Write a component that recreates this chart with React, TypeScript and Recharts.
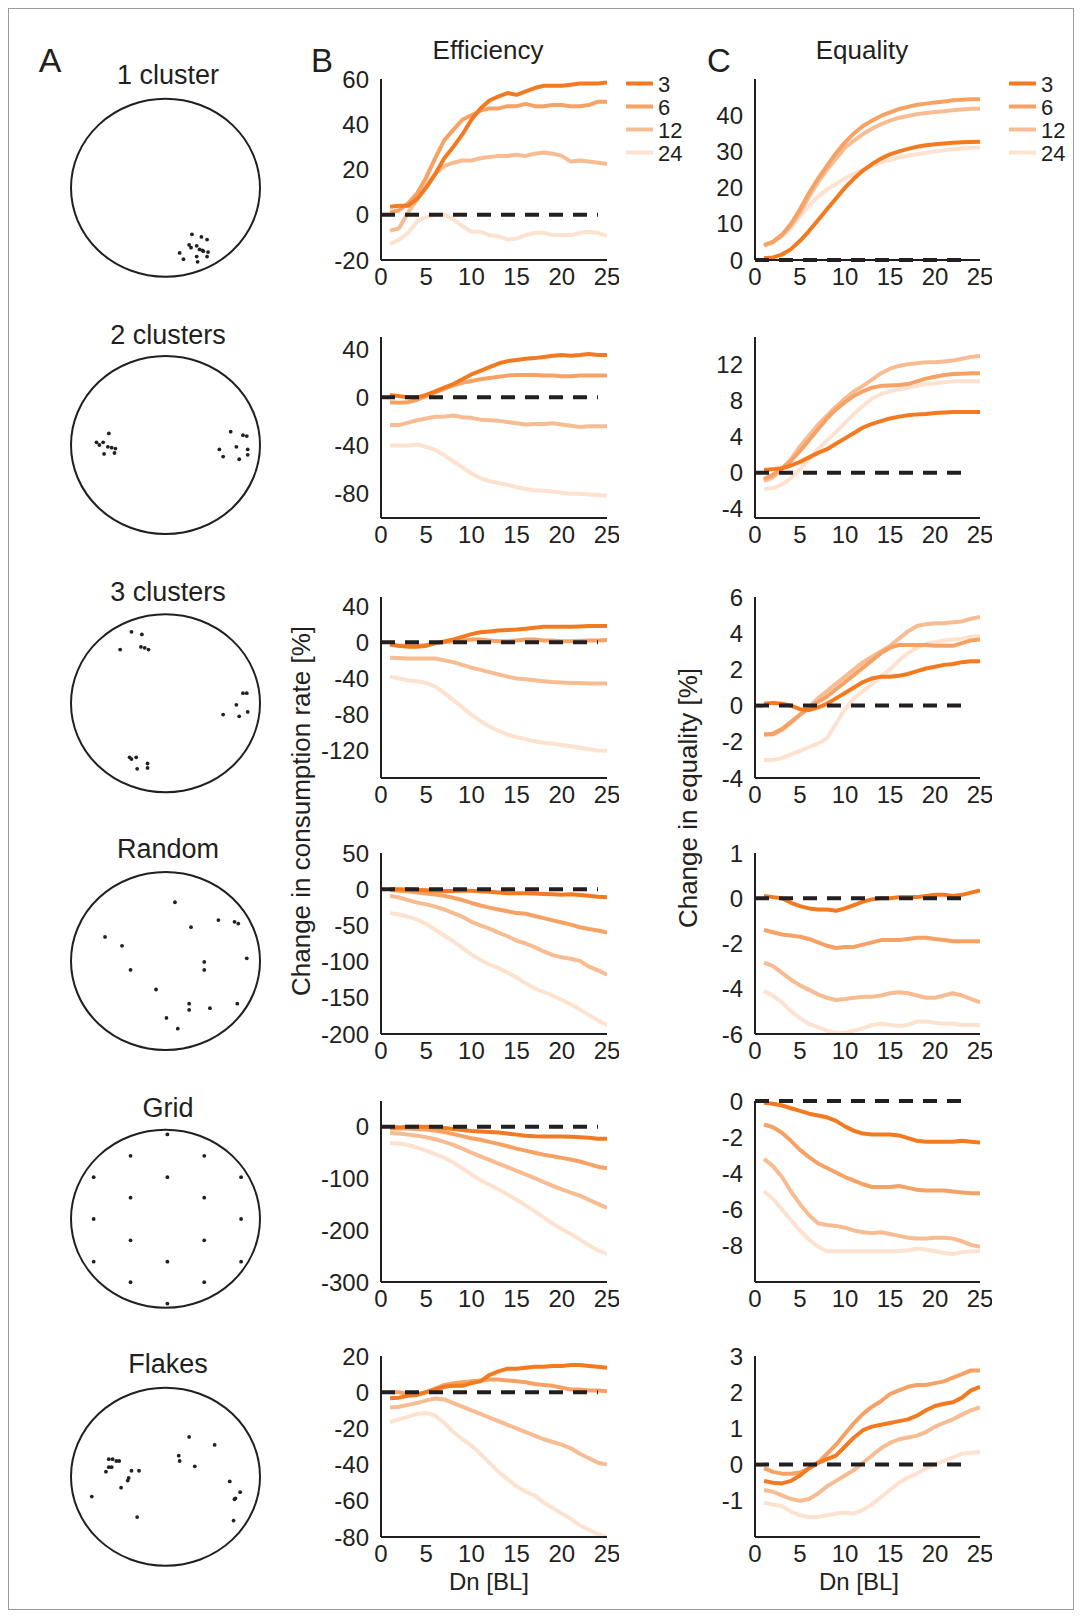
import { LineChart, Line, XAxis, YAxis, ReferenceLine, ScatterChart, Scatter } from "recharts"

const FONT = '"Liberation Sans", Arial, Helvetica, sans-serif'
const INK = "#231f20"

// group sizes shown in the legend, darkest first
const groupLabels = ["3", "6", "12", "24"]
const groupColors = ["#f37a21", "#f6a265", "#f8bc92", "#fde2cf"]

// Dn [BL]
const dn = [1, 2, 3, 4, 5, 6, 7, 8, 9, 10, 11, 12, 13, 14, 15, 16, 17, 18, 19, 20, 21, 22, 23, 24, 25]
const dnTicks = [0, 5, 10, 15, 20, 25]

// ---- 1 cluster
const e1_3 = [3.5, 4, 4, 7, 12, 18, 25, 30, 35.5, 42, 47, 50.5, 52.3, 53.8, 53, 54.5, 56, 57, 57, 57, 57.5, 58, 58, 58, 58.5]
const e1_6 = [1, 2, 5, 9.5, 16.5, 25, 33, 37.5, 42, 44, 46, 47, 47, 48, 48, 49, 48, 48, 48.5, 48.5, 48, 48, 48.5, 50, 50]
const e1_12 = [-7, -6, 1, 7, 13, 18, 21.5, 23, 24, 24, 25, 25.5, 26, 26, 26.5, 26, 27, 27.5, 27, 26, 23.5, 24, 23.5, 23, 22.5]
const e1_24 = [-13, -11, -8, -3, -1, 0, 0, -2, -5, -7.5, -7.5, -9, -9.5, -11, -10.5, -9, -8, -8, -9, -9, -9, -8, -7.5, -8, -9.5]
const q1_3 = [0.5, 0.7, 1.5, 3, 5.3, 8, 11, 14, 17, 20, 22.5, 24.7, 26.5, 28, 29.2, 30, 30.7, 31.3, 31.7, 32, 32.2, 32.4, 32.5, 32.6, 32.7]
const q1_6 = [4.2, 5, 7, 10, 14, 18.5, 22.5, 26, 29.5, 32.5, 35, 37, 38.5, 39.8, 40.8, 41.7, 42.3, 42.9, 43.2, 43.5, 43.8, 44.1, 44.3, 44.4, 44.4]
const q1_12 = [4, 5, 6.8, 9.5, 13, 17.5, 21.5, 25, 28, 31, 33, 34.8, 36.3, 37.5, 38.5, 39.3, 39.8, 40.3, 40.6, 40.9, 41.1, 41.4, 41.6, 41.8, 41.8]
const q1_24 = [4, 5, 6.5, 9, 12, 15, 17.5, 19.5, 21, 22.5, 23.8, 25, 26, 27, 27.7, 28.3, 28.8, 29.2, 29.6, 30, 30.3, 30.6, 30.8, 31, 31.1]

// ---- 2 clusters
const e2_3 = [2, 1, 0, 0, 2, 5, 8, 11, 15, 19, 22, 25, 28, 30, 31, 32, 32.5, 33.5, 34.5, 35, 34.5, 35, 36, 35, 35]
const e2_6 = [-4, -4.5, -4, -2, 1, 4, 7, 10, 12, 13.5, 15, 16, 17, 18, 18.5, 18.5, 18.5, 18, 18, 17.5, 17.5, 18, 18, 18, 18]
const e2_12 = [-23, -23, -21, -19, -17.5, -16, -16, -15, -16.5, -17, -18.5, -19, -19.5, -20.5, -21.5, -22.5, -22, -22, -21.5, -22.5, -23.5, -24.5, -24, -24, -24]
const e2_24 = [-40, -40, -40, -39, -41, -43.5, -48, -53, -58, -63, -67, -69.5, -71, -72.5, -74.5, -76, -77, -77.5, -78, -79, -80, -80, -80.5, -81, -81.5]
const q2_3 = [0.3, 0.4, 0.5, 0.8, 1.2, 1.7, 2.2, 2.6, 3.2, 3.8, 4.4, 5, 5.4, 5.7, 6, 6.2, 6.35, 6.45, 6.5, 6.6, 6.65, 6.7, 6.7, 6.7, 6.7]
const q2_6 = [-0.7, -0.2, 0.5, 1.3, 2.4, 3.6, 4.8, 6, 7, 7.8, 8.5, 9, 9.4, 9.6, 9.65, 9.7, 9.8, 10.1, 10.4, 10.6, 10.8, 10.9, 10.95, 11, 11]
const q2_12 = [-0.9, -0.5, 0.4, 1.5, 2.9, 4.1, 5.3, 6.3, 7.3, 8.2, 9, 9.6, 10.3, 11, 11.5, 11.8, 12, 12.1, 12.2, 12.2, 12.3, 12.4, 12.6, 12.8, 12.9]
const q2_24 = [-1.8, -1.7, -1.3, -0.6, 0.4, 1.5, 2.6, 3.6, 4.5, 5.5, 6.5, 7.4, 8.2, 8.7, 9, 9.2, 9.4, 9.6, 9.8, 9.9, 10, 10.1, 10.1, 10.1, 10.1]

// ---- 3 clusters
const e3_3 = [-2, -4, -5, -5, -4, -1, 1, 3, 6, 9, 11, 12, 13, 13.5, 14, 15, 16, 17, 17, 17, 17, 17.5, 18, 18, 18]
const e3_6 = [-3, -4, -4, -4, -3, -1, 0, 1, 2, 3, 3, 2, 1, 1, 2, 3, 3, 2, 2, 1, 1, 1.5, 2, 2, 2.5]
const e3_12 = [-17, -17.5, -18, -18, -18, -18, -20, -22, -25, -28, -30.5, -33, -35.5, -38, -40, -41, -42, -43, -44, -44.5, -45, -45, -45.5, -45.5, -45.5]
const e3_24 = [-38, -40, -42, -43, -45, -49, -56, -64, -72, -80, -87, -93, -98, -102, -105, -107, -109.5, -111, -112, -113.5, -115, -116.5, -118, -119.5, -120]
const q3_3 = [0.1, 0.15, 0.1, 0, -0.2, -0.25, -0.1, 0.1, 0.4, 0.7, 1.0, 1.3, 1.5, 1.6, 1.6, 1.65, 1.75, 1.9, 2.05, 2.15, 2.25, 2.3, 2.4, 2.45, 2.45]
const q3_6 = [-1.6, -1.55, -1.3, -0.9, -0.5, -0.15, 0.2, 0.5, 0.9, 1.3, 1.7, 2.1, 2.5, 2.9, 3.2, 3.35, 3.35, 3.35, 3.35, 3.3, 3.3, 3.3, 3.45, 3.6, 3.65]
const q3_12 = [-1.6, -1.6, -1.35, -0.95, -0.5, -0.1, 0.4, 0.8, 1.2, 1.6, 2.0, 2.4, 2.7, 3.0, 3.3, 3.7, 4.1, 4.4, 4.5, 4.55, 4.55, 4.6, 4.65, 4.8, 4.9]
const q3_24 = [-3.0, -3.0, -2.9, -2.7, -2.5, -2.3, -2.1, -1.8, -1.0, -0.2, 0.4, 0.8, 1.2, 1.6, 2.0, 2.5, 2.9, 3.2, 3.4, 3.5, 3.6, 3.65, 3.7, 3.8, 3.85]

// ---- random
const e4_3 = [0, 0, -0.5, -1, -1.5, -2, -2.5, -2.5, -2, -2, -3, -3.5, -4.5, -5.5, -5.5, -5.5, -6, -6.5, -7, -7.5, -7, -8, -9, -10.5, -11]
const e4_6 = [-1, -2, -3, -4.5, -6, -7.5, -9, -12, -15, -19, -22.5, -25.5, -28, -30.5, -33, -34, -37, -40, -43, -46, -49, -52.5, -55, -57, -60]
const e4_12 = [-9, -11.5, -15, -18.5, -21, -24, -28, -33, -38, -45, -50, -54.5, -60, -65, -71, -75, -80, -86, -91, -94, -96, -99, -107, -112, -118]
const e4_24 = [-33, -35, -38, -42, -48, -56, -64, -72, -81, -90, -98, -104, -109, -115, -122, -130, -137, -142, -147, -153, -159, -166, -174, -181, -188]
const q4_3 = [0.1, 0.05, 0, -0.2, -0.35, -0.45, -0.5, -0.5, -0.55, -0.45, -0.3, -0.15, -0.05, 0, 0, 0.05, 0.05, 0.05, 0.1, 0.15, 0.15, 0.1, 0.15, 0.25, 0.35]
const q4_6 = [-1.4, -1.5, -1.6, -1.65, -1.7, -1.8, -1.95, -2.1, -2.2, -2.15, -2.15, -2.05, -1.95, -1.85, -1.85, -1.85, -1.8, -1.75, -1.75, -1.8, -1.85, -1.9, -1.9, -1.9, -1.9]
const q4_12 = [-2.85, -3.0, -3.3, -3.6, -3.85, -4.05, -4.25, -4.4, -4.5, -4.45, -4.4, -4.35, -4.35, -4.3, -4.2, -4.15, -4.2, -4.3, -4.4, -4.4, -4.3, -4.2, -4.3, -4.45, -4.6]
const q4_24 = [-4.1, -4.3, -4.6, -5.0, -5.3, -5.55, -5.7, -5.85, -5.95, -5.95, -5.85, -5.75, -5.6, -5.55, -5.6, -5.65, -5.6, -5.45, -5.45, -5.5, -5.55, -5.55, -5.6, -5.6, -5.6]

// ---- grid
const e5_3 = [-1, -1, 0, 0, 0, -1, -2, -4, -6, -8, -9, -10, -11, -13, -15, -17, -18, -18.5, -18.5, -18.5, -19, -20, -21, -23, -23]
const e5_6 = [-3, -3, -3, -4, -5, -7, -10, -14, -18, -22, -25, -29, -33, -37.5, -42, -46, -50, -54, -57, -60, -63, -67, -72, -77, -80]
const e5_12 = [-12, -13, -15, -17, -20, -24, -29, -35, -42, -50, -57, -64, -71, -78, -85, -92, -99, -107, -114, -121, -127, -133, -141, -149, -157]
const e5_24 = [-31, -32, -35, -40, -46, -53, -60, -69, -80, -92, -103, -112, -121, -131, -141, -152, -163, -175, -187, -198, -207, -218, -229, -239, -245]
const q5_3 = [-0.1, -0.15, -0.25, -0.4, -0.55, -0.7, -0.8, -0.9, -1.1, -1.4, -1.65, -1.8, -1.85, -1.85, -1.85, -1.9, -2.05, -2.2, -2.25, -2.25, -2.25, -2.25, -2.2, -2.25, -2.3]
const q5_6 = [-1.3, -1.45, -1.75, -2.2, -2.7, -3.1, -3.45, -3.7, -3.95, -4.2, -4.4, -4.6, -4.75, -4.75, -4.75, -4.7, -4.8, -4.9, -4.95, -4.95, -4.95, -5.0, -5.05, -5.1, -5.1]
const q5_12 = [-3.2, -3.6, -4.2, -5, -5.7, -6.3, -6.75, -6.85, -6.9, -7.0, -7.15, -7.25, -7.3, -7.25, -7.35, -7.45, -7.55, -7.6, -7.6, -7.55, -7.55, -7.6, -7.75, -7.95, -8.05]
const q5_24 = [-5.0, -5.4, -6.0, -6.6, -7.15, -7.65, -8.05, -8.3, -8.3, -8.3, -8.3, -8.3, -8.3, -8.3, -8.3, -8.3, -8.25, -8.15, -8.2, -8.3, -8.4, -8.45, -8.35, -8.3, -8.3]

// ---- flakes
const e6_3 = [-3.3, -3, -2, -1.5, 0, 1.5, 3, 3.5, 3.5, 5, 6, 9.5, 11.5, 13, 13, 13.5, 14, 14, 14.5, 14.5, 15, 15, 14.5, 14, 13.5]
const e6_6 = [0, 0, -1, -1, 0, 2, 4, 5, 5.5, 6, 6.5, 7, 7, 6.5, 6, 5.5, 4.5, 4, 3.5, 2.5, 1.5, 1.5, 1, 1, 0.5]
const e6_12 = [-8.5, -8, -7, -6, -4.5, -3.5, -4, -6, -8, -10, -12, -14, -16, -18, -20, -22, -24, -26, -27.5, -29, -31, -34, -36.5, -39, -40]
const e6_24 = [-16.5, -15, -13.5, -12, -11.5, -13, -17, -22, -26, -29.5, -34, -39, -44, -48, -52, -55, -57, -61, -64, -67, -70, -73.5, -76, -78.5, -80]
const q6_3 = [-0.45, -0.5, -0.52, -0.45, -0.3, -0.1, 0.05, 0.15, 0.25, 0.5, 0.75, 0.95, 1.05, 1.1, 1.15, 1.2, 1.25, 1.35, 1.5, 1.62, 1.68, 1.72, 1.85, 2.05, 2.15]
const q6_6 = [-0.1, -0.2, -0.25, -0.25, -0.22, -0.1, 0.05, 0.3, 0.55, 0.85, 1.15, 1.4, 1.6, 1.75, 1.95, 2.05, 2.15, 2.2, 2.2, 2.25, 2.3, 2.4, 2.5, 2.6, 2.6]
const q6_12 = [-0.7, -0.75, -0.85, -0.95, -1.0, -0.95, -0.8, -0.6, -0.45, -0.3, -0.15, 0.05, 0.25, 0.45, 0.6, 0.7, 0.75, 0.8, 0.9, 1.05, 1.15, 1.25, 1.38, 1.5, 1.58]
const q6_24 = [-1.05, -1.1, -1.15, -1.3, -1.4, -1.45, -1.45, -1.4, -1.35, -1.33, -1.35, -1.25, -1.1, -0.9, -0.7, -0.5, -0.35, -0.25, -0.1, 0, 0.1, 0.2, 0.3, 0.33, 0.35]

// fish positions in the arena (unit circle coords)
const oneCluster = [[0.28, -0.52], [0.38, -0.55], [0.44, -0.58], [0.25, -0.64], [0.27, -0.67], [0.33, -0.65], [0.36, -0.69], [0.39, -0.7], [0.45, -0.72], [0.15, -0.73], [0.33, -0.77], [0.44, -0.77], [0.19, -0.8], [0.34, -0.83], [0.4, -0.71]]
const twoClusters = [[-0.6, 0.13], [-0.73, 0.03], [-0.7, 0], [-0.66, 0.03], [-0.61, -0.02], [-0.57, -0.03], [-0.53, -0.04], [-0.54, -0.09], [-0.65, -0.1], [0.69, 0.15], [0.82, 0.11], [0.86, 0.1], [0.57, -0.05], [0.75, -0.02], [0.87, -0.05], [0.61, -0.13], [0.78, -0.16], [0.87, -0.11]]
const threeClusters = [[-0.36, 0.8], [-0.25, 0.77], [-0.48, 0.6], [-0.26, 0.63], [-0.22, 0.62], [-0.18, 0.6], [0.82, 0.11], [0.86, 0.11], [0.75, -0.02], [0.87, -0.1], [0.61, -0.13], [0.78, -0.15], [-0.38, -0.61], [-0.36, -0.63], [-0.31, -0.61], [-0.19, -0.68], [-0.3, -0.74], [-0.19, -0.73]]
const randomPts = [[0.1, 0.66], [0.56, 0.46], [0.73, 0.44], [0.77, 0.42], [0.27, 0.38], [-0.64, 0.27], [-0.46, 0.17], [0.86, 0.03], [0.41, -0.01], [-0.37, -0.1], [0.41, -0.1], [-0.1, -0.32], [0.25, -0.48], [0.76, -0.48], [0.25, -0.55], [0.47, -0.53], [0.01, -0.64], [0.13, -0.76]]
const gridPts = [[0.02, 0.95], [-0.37, 0.71], [0.41, 0.71], [-0.76, 0.47], [0.02, 0.47], [0.8, 0.47], [-0.37, 0.24], [0.41, 0.24], [-0.76, 0], [0.8, 0], [-0.37, -0.24], [0.41, -0.24], [-0.76, -0.48], [0.02, -0.48], [0.8, -0.48], [-0.37, -0.71], [0.41, -0.71], [0.02, -0.95]]
const flakesPts = [[0.25, 0.45], [0.52, 0.36], [0.14, 0.24], [0.15, 0.18], [0.31, 0.12], [-0.6, 0.2], [-0.56, 0.2], [-0.52, 0.18], [-0.49, 0.18], [-0.6, 0.11], [-0.57, 0.11], [-0.63, 0.06], [-0.36, 0.07], [-0.28, 0.07], [-0.39, -0.01], [-0.4, -0.04], [-0.47, -0.12], [-0.78, -0.22], [0.68, -0.05], [0.79, -0.17], [0.74, -0.24], [0.73, -0.25], [-0.3, -0.45], [0.72, -0.49]]

const rowNames = ["1 cluster", "2 clusters", "3 clusters", "Random", "Grid", "Flakes"]
const rowTops = [79, 337, 597, 853, 1101, 1356]
const arenaCy = [187.8, 445, 703.3, 961, 1218.8, 1476.7]
const nameY = [84, 343.5, 601, 857.5, 1116.5, 1373]

const rows = [
  { dots: oneCluster, eff: [e1_3, e1_6, e1_12, e1_24], effDom: [-20, 60], effTicks: [-20, 0, 20, 40, 60],
    eq: [q1_3, q1_6, q1_12, q1_24], eqDom: [0, 50], eqTicks: [0, 10, 20, 30, 40] },
  { dots: twoClusters, eff: [e2_3, e2_6, e2_12, e2_24], effDom: [-100, 50], effTicks: [-80, -40, 0, 40],
    eq: [q2_3, q2_6, q2_12, q2_24], eqDom: [-5, 15], eqTicks: [-4, 0, 4, 8, 12] },
  { dots: threeClusters, eff: [e3_3, e3_6, e3_12, e3_24], effDom: [-150, 50], effTicks: [-120, -80, -40, 0, 40],
    eq: [q3_3, q3_6, q3_12, q3_24], eqDom: [-4, 6], eqTicks: [-4, -2, 0, 2, 4, 6] },
  { dots: randomPts, eff: [e4_3, e4_6, e4_12, e4_24], effDom: [-200, 50], effTicks: [-200, -150, -100, -50, 0, 50],
    eq: [q4_3, q4_6, q4_12, q4_24], eqDom: [-6, 2], eqTicks: [-6, -4, -2, 0, 2], eqText: ["-6", "-4", "-2", "0", "1"] },
  { dots: gridPts, eff: [e5_3, e5_6, e5_12, e5_24], effDom: [-300, 50], effTicks: [-300, -200, -100, 0],
    eq: [q5_3, q5_6, q5_12, q5_24], eqDom: [-10, 0], eqTicks: [-8, -6, -4, -2, 0] },
  { dots: flakesPts, eff: [e6_3, e6_6, e6_12, e6_24], effDom: [-80, 20], effTicks: [-80, -60, -40, -20, 0, 20],
    eq: [q6_3, q6_6, q6_12, q6_24], eqDom: [-2, 3], eqTicks: [-1, 0, 1, 2, 3] },
]

const ML = 70, MT = 20, MR = 12, XH = 40, PH = 181
const tickStyle = { fontSize: 24, fill: INK, fontFamily: FONT }

function Panel({ left, top, w, lines, dom, ticks, text }: any) {
  const data = dn.map((x, i) => ({ x, g0: lines[0][i], g1: lines[1][i], g2: lines[2][i], g3: lines[3][i] }))
  return (
    <div style={{ position: "absolute", left: left - ML, top: top - MT }}>
      <LineChart width={ML + w + MR} height={MT + PH + XH} data={data} margin={{ top: MT, right: MR, bottom: 0, left: 0 }}>
        <XAxis type="number" dataKey="x" domain={[0, 25]} ticks={dnTicks} interval={0} height={XH}
          axisLine={{ stroke: INK, strokeWidth: 2 }} tickLine={false} tick={tickStyle} allowDataOverflow />
        <YAxis type="number" domain={dom} ticks={ticks} interval={0} width={ML} tickMargin={6}
          axisLine={{ stroke: INK, strokeWidth: 2 }} tickLine={false} tick={tickStyle} allowDataOverflow
          tickFormatter={(v: number) => (text ? text[ticks.indexOf(v)] : String(v))} />
        {[3, 2, 1, 0].map((k) => (
          <Line key={k} type="linear" dataKey={"g" + k} stroke={groupColors[k]} strokeWidth={4}
            dot={false} activeDot={false} isAnimationActive={false} strokeLinejoin="round" />
        ))}
        <ReferenceLine segment={[{ x: 0, y: 0 }, { x: 24, y: 0 }]} stroke={INK} strokeWidth={4}
          strokeDasharray="14 10" ifOverflow="visible" />
      </LineChart>
    </div>
  )
}

const CX = 165.5, RX = 94.5, RY = 89

function Arena({ cy, pts }: any) {
  const data = pts.map((p: number[]) => ({ x: p[0], y: p[1] }))
  return (
    <div style={{ position: "absolute", left: CX - RX, top: cy - RY }}>
      <ScatterChart width={RX * 2} height={RY * 2} margin={{ top: 0, right: 0, bottom: 0, left: 0 }}>
        <XAxis type="number" dataKey="x" domain={[-1, 1]} hide />
        <YAxis type="number" dataKey="y" domain={[-1, 1]} hide />
        <Scatter data={data} isAnimationActive={false}
          shape={(p: any) => <circle cx={p.cx} cy={p.cy} r={1.9} fill={INK} />} />
      </ScatterChart>
    </div>
  )
}

function Legend({ x }: { x: number }) {
  return (
    <g>
      {groupLabels.map((lab, i) => {
        const y = 83.5 + i * 23
        return (
          <g key={lab}>
            <line x1={x} x2={x + 27} y1={y} y2={y} stroke={groupColors[i]} strokeWidth={4} />
            <text x={x + 32} y={y + 8} fontSize={22} fill={INK}>{lab}</text>
          </g>
        )
      })}
    </g>
  )
}

export default function App() {
  return (
    <div style={{ position: "absolute", left: 0, top: 0, width: 1082, height: 1617, background: "#fff", fontFamily: FONT }}>
      <svg width={1082} height={1617} style={{ position: "absolute", left: 0, top: 0 }} fontFamily={FONT}>
        <rect x={8.5} y={8.5} width={1065} height={1601} fill="none" stroke="#9a9a9a" strokeWidth={1} />
        <text x={50} y={72} fontSize={34} textAnchor="middle" fill={INK}>A</text>
        <text x={322} y={72} fontSize={33} textAnchor="middle" fill={INK}>B</text>
        <text x={719} y={72} fontSize={33} textAnchor="middle" fill={INK}>C</text>
        <text x={488} y={59} fontSize={26} textAnchor="middle" fill={INK}>Efficiency</text>
        <text x={862} y={59} fontSize={26} textAnchor="middle" fill={INK}>Equality</text>
        <Legend x={626} />
        <Legend x={1009} />
        {rowNames.map((n, i) => (
          <text key={n} x={168} y={nameY[i]} fontSize={27} textAnchor="middle" fill={INK}>{n}</text>
        ))}
        {arenaCy.map((cy, i) => (
          <ellipse key={i} cx={CX} cy={cy} rx={RX} ry={RY} fill="none" stroke={INK} strokeWidth={2} />
        ))}
        <text x={310} y={811} fontSize={26} textAnchor="middle" fill={INK} transform="rotate(-90 310 811)">
          Change in consumption rate [%]
        </text>
        <text x={697} y={798} fontSize={26} textAnchor="middle" fill={INK} transform="rotate(-90 697 798)">
          Change in equality [%]
        </text>
        <text x={489} y={1590} fontSize={24} textAnchor="middle" fill={INK}>Dn [BL]</text>
        <text x={859} y={1590} fontSize={24} textAnchor="middle" fill={INK}>Dn [BL]</text>
      </svg>
      {rows.map((r, i) => (
        <div key={i}>
          <Arena cy={arenaCy[i]} pts={r.dots} />
          <Panel left={381} top={rowTops[i]} w={226} lines={r.eff} dom={r.effDom} ticks={r.effTicks} />
          <Panel left={755} top={rowTops[i]} w={225} lines={r.eq} dom={r.eqDom} ticks={r.eqTicks} text={r.eqText} />
        </div>
      ))}
    </div>
  )
}
